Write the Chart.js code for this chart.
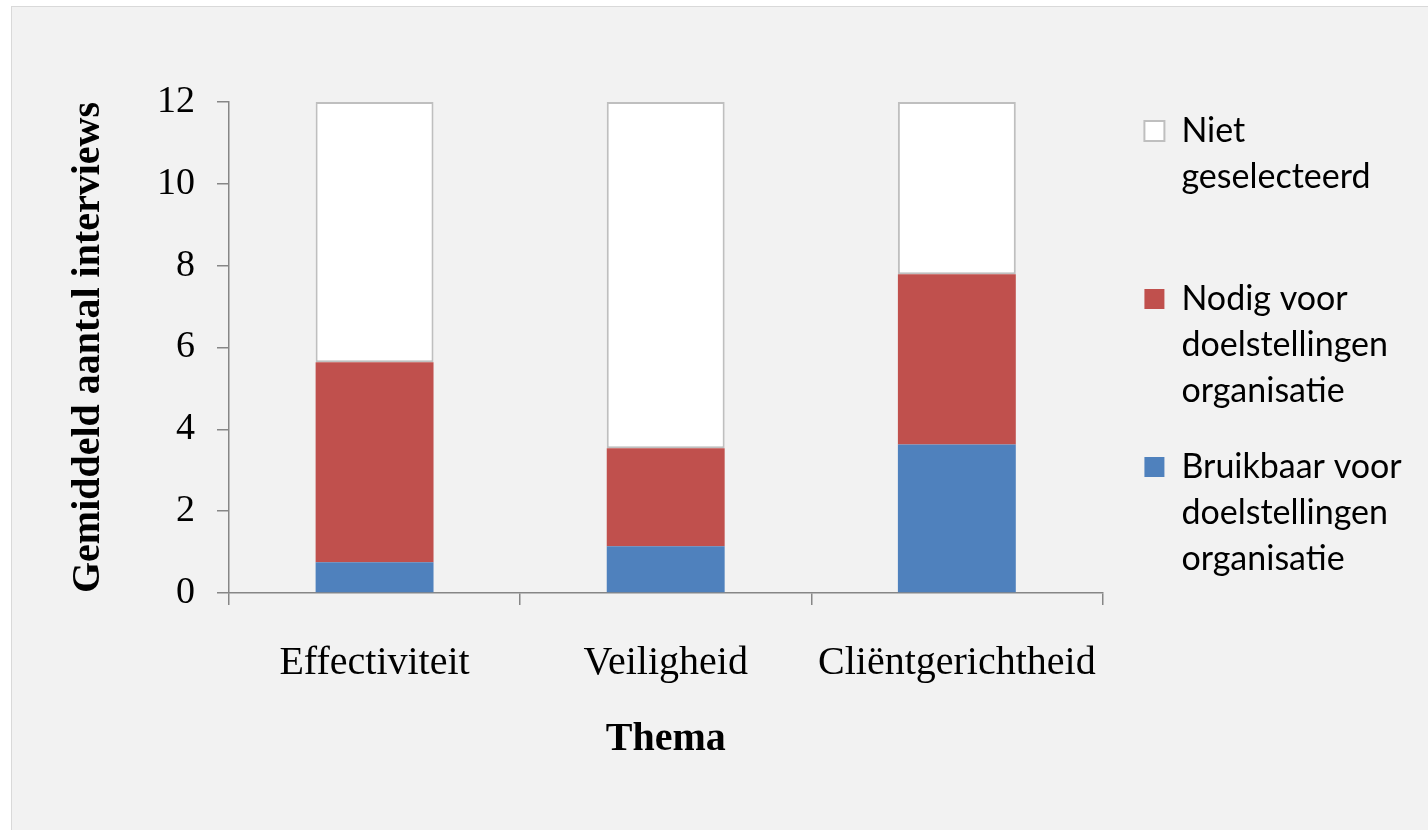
<!DOCTYPE html>
<html>
<head>
<meta charset="utf-8">
<script src="https://cdn.jsdelivr.net/npm/chart.js@4.4.1/dist/chart.umd.min.js"></script>
<style>
  html, body { margin: 0; padding: 0; background: #ffffff; }
  #frame { position: absolute; left: 11px; top: 6px; width: 1417px; height: 824px;
           background: #f2f2f2; border-left: 1px solid #d9d9d9; border-top: 1px solid #d9d9d9; box-sizing: border-box; }
  #c { position: absolute; left: 0; top: 0; }
</style>
</head>
<body>
<div id="frame"></div>
<canvas id="c" width="1428" height="830"></canvas>
<script>
const categories = ['Effectiviteit', 'Veiligheid', 'Cliëntgerichtheid'];
const bruikbaar = [0.75, 1.14, 3.63];
const nodig = [4.89, 2.40, 4.16];
const nietGeselecteerd = [6.36, 8.46, 4.21];
const seriesLabels = [
  ['Bruikbaar voor', 'doelstellingen', 'organisatie'],
  ['Nodig voor', 'doelstellingen', 'organisatie'],
  ['Niet', 'geselecteerd', '']
];
const yTicks = [0, 2, 4, 6, 8, 10, 12];
const yTitle = 'Gemiddeld aantal interviews';
const xTitle = 'Thema';

const serif = "'Liberation Serif', 'Times New Roman', serif";
const sans = "Lato, 'Open Sans', sans-serif";
const axisColor = '#868686';

// shift legend box slightly: a gap from the plot area and a higher start
const legendShift = {
  id: 'legendShift',
  afterLayout(chart) {
    const l = chart.legend;
    if (!l) return;
    l.left += 12; l.right += 60;
    l.top -= 25; l.bottom -= 25;
  }
};

new Chart(document.getElementById('c'), {
  type: 'bar',
  data: {
    labels: categories,
    datasets: [
      { label: 'Bruikbaar', data: bruikbaar, backgroundColor: '#4f81bd', borderWidth: 0 },
      { label: 'Nodig', data: nodig, backgroundColor: '#c0504d', borderWidth: 0 },
      { label: 'Niet', data: nietGeselecteerd, backgroundColor: '#ffffff', borderColor: '#bfbfbf', borderWidth: 2, borderSkipped: false }
    ]
  },
  plugins: [legendShift],
  options: {
    responsive: false,
    animation: false,
    layout: { padding: { left: 65, right: 42, top: 102, bottom: 66 } },
    datasets: { bar: { barPercentage: 0.405, categoryPercentage: 1 } },
    plugins: {
      tooltip: { enabled: false },
      legend: {
        position: 'right',
        align: 'start',
        reverse: true,
        title: { display: true, text: ' ', font: { size: 7, lineHeight: 1 }, padding: 0 },
        labels: {
          boxWidth: 20,
          boxHeight: 20,
          padding: 30,
          color: '#000000',
          font: { family: sans, size: 34, lineHeight: 1.353 },
          generateLabels: (chart) => chart.data.datasets.map((ds, i) => ({
            text: seriesLabels[i],
            fillStyle: ds.backgroundColor,
            strokeStyle: i === 2 ? '#bfbfbf' : ds.backgroundColor,
            lineWidth: i === 2 ? 2 : 0,
            fontColor: '#000000',
            hidden: false,
            datasetIndex: i
          }))
        }
      }
    },
    scales: {
      x: {
        stacked: true,
        grid: { display: true, drawOnChartArea: false, drawTicks: true, tickLength: 12, color: axisColor, lineWidth: 1.5 },
        border: { display: true, color: axisColor, width: 1.5 },
        ticks: { color: '#000000', font: { family: serif, size: 40 }, padding: 34, maxRotation: 0 },
        title: { display: true, text: xTitle, color: '#000000', font: { family: serif, size: 40, weight: 'bold' }, padding: { top: -5, bottom: 0 } }
      },
      y: {
        stacked: true,
        min: 0,
        max: 12,
        afterBuildTicks: (scale) => { scale.ticks = yTicks.map(v => ({ value: v })); },
        grid: { display: true, drawOnChartArea: false, drawTicks: true, tickLength: 12, color: axisColor, lineWidth: 1.5 },
        border: { display: true, color: axisColor, width: 1.5 },
        ticks: { color: '#000000', font: { family: serif, size: 38 }, padding: 22 },
        title: { display: true, text: yTitle, color: '#000000', font: { family: serif, size: 40, weight: 'bold' }, padding: { top: 0, bottom: 22 } }
      }
    }
  }
});
</script>
</body>
</html>
